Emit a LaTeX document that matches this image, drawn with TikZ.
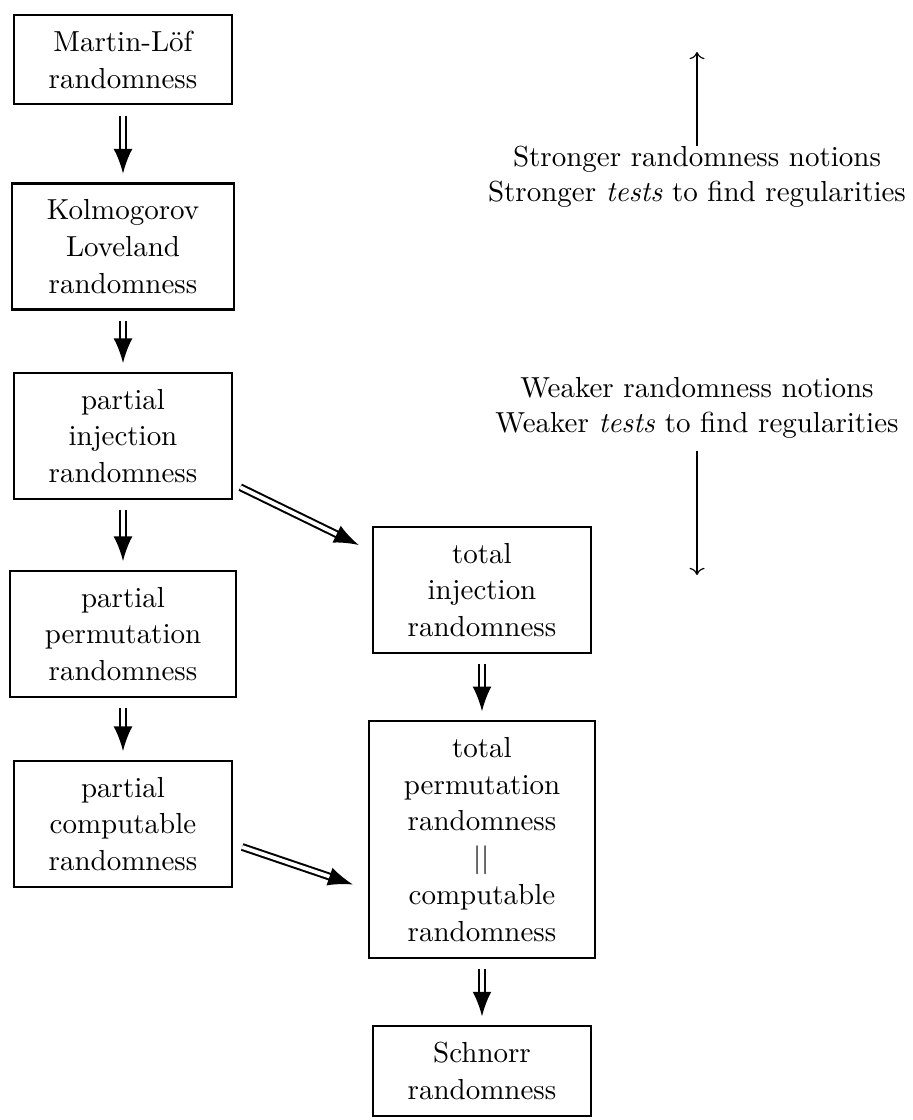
\documentclass[tikz,border=0pt]{standalone}
\usepackage{tikz}
\usetikzlibrary{arrows.meta,calc}
\begin{document}
\begin{tikzpicture}[x=0.345pt,y=-0.345pt,
    notion/.style={draw,thick,align=center,inner xsep=12pt,inner ysep=5.5pt,font=\linespread{1.06}\selectfont},
    implies/.style={double,double distance=1.3pt,line width=0.7pt,-{Latex[length=8.5pt,width=6.5pt]},shorten <=3.5pt,shorten >=3pt}]
    \useasboundingbox (0,0) rectangle (912,1120);
    \node[notion] (ml) at (123,59.5) {Martin-Löf\\randomness};
    \node[notion] (kl) at (123,246.5) {Kolmogorov\\Loveland\\randomness};
    \node[notion] (pinj) at (123,436) {partial\\injection\\randomness};
    \node[notion] (pperm) at (123,634) {partial\\permutation\\randomness};
    \node[notion] (pcomp) at (123,824) {partial\\computable\\randomness};
    \node[notion] (tinj) at (482,590) {total\\injection\\randomness};
    \node[notion] (tperm) at (482,839.5) {total\\permutation\\randomness\\$||$\\computable\\randomness};
    \node[notion] (schnorr) at (482,1071) {Schnorr\\randomness};
    \draw[implies] (ml) -- (kl);
    \draw[implies] (kl) -- (pinj);
    \draw[implies] (pinj) -- (pperm);
    \draw[implies] (pperm) -- (pcomp);
    \draw[implies] (tinj) -- (tperm);
    \draw[implies] (tperm) -- (schnorr);
    \draw[implies,shorten <=0pt,shorten >=0pt] ($(pinj.south east)+(7,-13)$) -- ($(tinj.west)+(-13,-45)$);
    \draw[implies,shorten <=0pt,shorten >=0pt] ($(pcomp.east)+(9,23)$) -- ($(tperm.west)+(-15,45)$);
    \node[inner sep=0pt,align=center] (strong) at (697,177) {Stronger randomness notions\\Stronger \emph{tests} to find regularities};
    \node[inner sep=0pt,align=center] (weak) at (697,408) {Weaker randomness notions\\Weaker \emph{tests} to find regularities};
    \coordinate (up) at (697,52);
    \coordinate (down) at (697,575);
    \draw[->] (strong) -- (up);
    \draw[->,shorten <=4pt] (weak) -- (down);
\end{tikzpicture}
\end{document}
